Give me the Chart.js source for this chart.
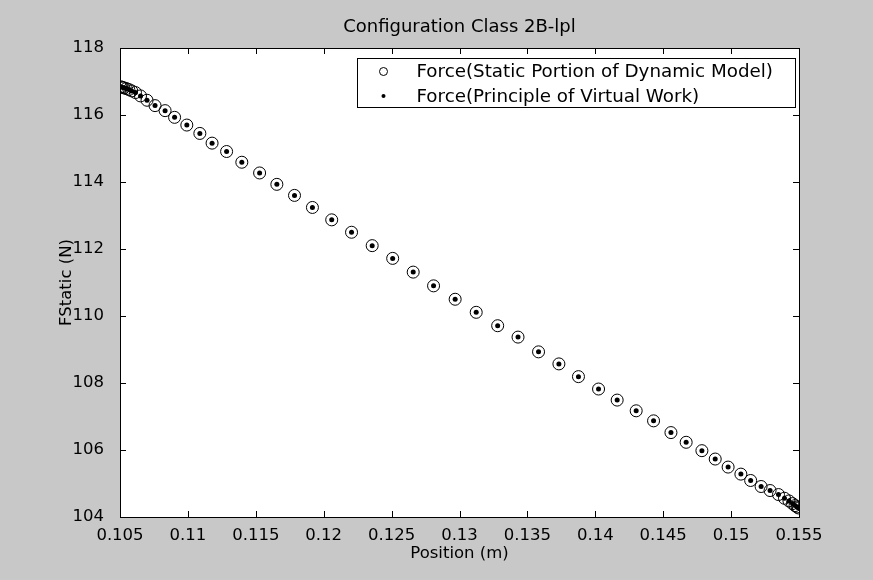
<!DOCTYPE html>
<html>
<head>
<meta charset="utf-8">
<title>Configuration Class 2B-lpl</title>
<script src="https://cdn.jsdelivr.net/npm/chart.js@4.4.1/dist/chart.umd.min.js"></script>
<style>
  html, body { margin: 0; padding: 0; background: #c8c8c8; }
  #wrap { width: 873px; height: 580px; }
</style>
</head>
<body>
<div id="wrap"><canvas id="forceChart" width="873" height="580"></canvas></div>
<script>
// values
const positionM = [
  0.10504, 0.10515, 0.10529, 0.10546, 0.10565, 0.10586, 0.10614, 0.10651, 0.10699, 0.10758,
  0.10832, 0.10902, 0.10992, 0.11088, 0.11178, 0.11285, 0.11397, 0.11528, 0.11655, 0.11785,
  0.11917, 0.12059, 0.12205, 0.12357, 0.12508, 0.12659, 0.12809, 0.12968, 0.13123, 0.13281,
  0.13431, 0.13582, 0.13732, 0.13876, 0.14024, 0.14161, 0.14301, 0.14429, 0.14557, 0.14669,
  0.14785, 0.14883, 0.14978, 0.15072, 0.15144, 0.15221, 0.15287, 0.15349, 0.15393, 0.15426,
  0.15452, 0.15471, 0.15486, 0.15496
];
const forceStaticDyn = [
  116.84, 116.83, 116.81, 116.79, 116.76, 116.72, 116.67, 116.57, 116.44, 116.28,
  116.13, 115.93, 115.70, 115.45, 115.16, 114.91, 114.59, 114.27, 113.93, 113.60,
  113.24, 112.87, 112.50, 112.10, 111.72, 111.31, 110.90, 110.50, 110.11, 109.71,
  109.37, 108.93, 108.57, 108.19, 107.82, 107.49, 107.17, 106.87, 106.52, 106.23,
  105.98, 105.73, 105.49, 105.28, 105.09, 104.91, 104.79, 104.67, 104.56, 104.48,
  104.40, 104.34, 104.30, 104.27
];
const forceVirtualWork = [
  116.84, 116.83, 116.81, 116.79, 116.76, 116.72, 116.67, 116.57, 116.44, 116.28,
  116.13, 115.93, 115.70, 115.45, 115.16, 114.91, 114.59, 114.27, 113.93, 113.60,
  113.24, 112.87, 112.50, 112.10, 111.72, 111.31, 110.90, 110.50, 110.11, 109.71,
  109.37, 108.93, 108.57, 108.19, 107.82, 107.49, 107.17, 106.87, 106.52, 106.23,
  105.98, 105.73, 105.49, 105.28, 105.09, 104.91, 104.79, 104.67, 104.56, 104.48,
  104.40, 104.34, 104.30, 104.27
];
const xTicks = [0.105, 0.11, 0.115, 0.12, 0.125, 0.13, 0.135, 0.14, 0.145, 0.15, 0.155];
const yTicks = [104, 106, 108, 110, 112, 114, 116, 118];

const FONT = "'DejaVu Sans', sans-serif";

function toPoints(xs, ys) {
  return xs.map((x, i) => ({ x: x, y: ys[i] }));
}

// grey figure background + white axes area
const backgroundPlugin = {
  id: "background",
  beforeDraw(chart) {
    const { ctx, chartArea: a } = chart;
    ctx.save();
    ctx.fillStyle = "#c8c8c8";
    ctx.fillRect(0, 0, chart.width, chart.height);
    ctx.fillStyle = "#ffffff";
    ctx.fillRect(a.left, a.top, a.right - a.left, a.bottom - a.top);
    ctx.restore();
  }
};

// matlab style box with ticks pointing inward on all four sides
const framePlugin = {
  id: "frame",
  afterDatasetsDraw(chart) {
    const { ctx, chartArea: a, scales } = chart;
    const len = 6;
    ctx.save();
    ctx.strokeStyle = "#000";
    ctx.lineWidth = 1;
    ctx.beginPath();
    scales.x.ticks.forEach(t => {
      const px = Math.round(scales.x.getPixelForValue(t.value)) + 0.5;
      ctx.moveTo(px, a.top);
      ctx.lineTo(px, a.top + len);
      ctx.moveTo(px, a.bottom);
      ctx.lineTo(px, a.bottom - len);
    });
    scales.y.ticks.forEach(t => {
      const py = Math.round(scales.y.getPixelForValue(t.value)) + 0.5;
      ctx.moveTo(a.left, py);
      ctx.lineTo(a.left + len, py);
      ctx.moveTo(a.right, py);
      ctx.lineTo(a.right - len, py);
    });
    ctx.stroke();
    ctx.strokeRect(Math.round(a.left) + 0.5, Math.round(a.top) + 0.5,
      Math.round(a.right - a.left), Math.round(a.bottom - a.top));
    ctx.restore();
  }
};

// boxed legend in the upper right corner of the axes
const boxLegendPlugin = {
  id: "boxLegend",
  afterDraw(chart) {
    const { ctx, chartArea: a } = chart;
    const w = 438, h = 49;
    const x0 = Math.round(a.right - 4 - w) + 0.5;
    const y0 = Math.round(a.top + 10) + 0.5;
    ctx.save();
    ctx.fillStyle = "#fff";
    ctx.fillRect(x0, y0, w, h);
    ctx.strokeStyle = "#000";
    ctx.lineWidth = 1;
    ctx.strokeRect(x0, y0, w, h);
    ctx.font = "18.3px " + FONT;
    ctx.textBaseline = "middle";
    ctx.fillStyle = "#000";
    chart.data.datasets.forEach((ds, i) => {
      const cy = y0 + 13 + i * 24.5;
      const cx = x0 + 26;
      ctx.beginPath();
      if (i === 0) {
        ctx.arc(cx, cy, 4, 0, Math.PI * 2);
        ctx.stroke();
      } else {
        ctx.arc(cx, cy, 2, 0, Math.PI * 2);
        ctx.fill();
      }
      ctx.fillText(ds.label, x0 + 59, cy + 1);
    });
    ctx.restore();
  }
};

new Chart(document.getElementById("forceChart"), {
  type: "scatter",
  data: {
    datasets: [
      {
        label: "Force(Static Portion of Dynamic Model)",
        data: toPoints(positionM, forceStaticDyn),
        pointStyle: "circle",
        pointRadius: 6,
        pointHoverRadius: 6,
        pointBorderWidth: 1,
        borderColor: "#000",
        backgroundColor: "rgba(0,0,0,0)"
      },
      {
        label: "Force(Principle of Virtual Work)",
        data: toPoints(positionM, forceVirtualWork),
        pointStyle: "circle",
        pointRadius: 2.5,
        pointHoverRadius: 2.5,
        pointBorderWidth: 0,
        borderColor: "#000",
        backgroundColor: "#000"
      }
    ]
  },
  options: {
    responsive: false,
    animation: false,
    devicePixelRatio: 1,
    layout: { padding: { top: 0, right: 74, bottom: 0, left: 0 } },
    plugins: {
      legend: { display: false },
      tooltip: { enabled: false },
      title: {
        display: true,
        fullSize: false,
        text: "Configuration Class 2B-lpl",
        color: "#000",
        font: { family: FONT, size: 18, weight: "normal" },
        padding: { top: 17, bottom: 9.4 }
      }
    },
    scales: {
      x: {
        type: "linear",
        min: 0.105,
        max: 0.155,
        afterBuildTicks: s => { s.ticks = xTicks.map(v => ({ value: v })); },
        afterFit: s => { s.height = 63; },
        grid: { display: false },
        border: { display: false },
        ticks: {
          color: "#000",
          padding: 1,
          maxRotation: 0,
          font: { family: FONT, size: 16.5 },
          callback: v => String(v)
        },
        title: {
          display: true,
          text: "Position (m)",
          color: "#000",
          font: { family: FONT, size: 16.5 },
          padding: { top: 0, bottom: 16 }
        }
      },
      y: {
        type: "linear",
        min: 104,
        max: 118,
        afterBuildTicks: s => { s.ticks = yTicks.map(v => ({ value: v })); },
        afterFit: s => { s.width = 120; },
        grid: { display: false },
        border: { display: false },
        ticks: {
          color: "#000",
          padding: 8,
          font: { family: FONT, size: 16.5 },
          callback: v => String(v)
        },
        title: {
          display: true,
          text: "FStatic (N)",
          color: "#000",
          font: { family: FONT, size: 16.5 },
          padding: { top: 57, bottom: 0 }
        }
      }
    }
  },
  plugins: [backgroundPlugin, framePlugin, boxLegendPlugin]
});
</script>
</body>
</html>
